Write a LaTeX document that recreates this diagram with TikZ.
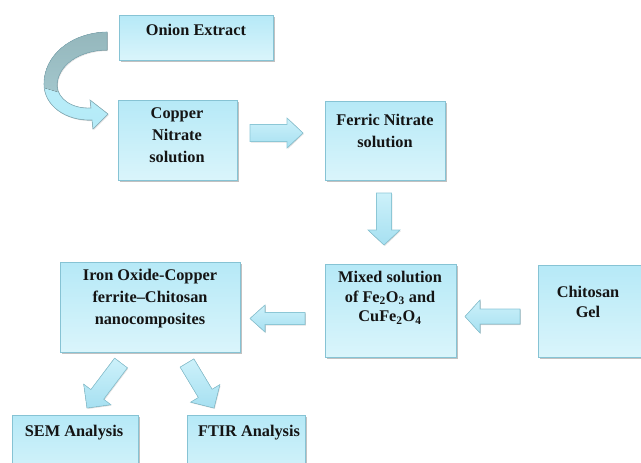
\documentclass[tikz,border=0pt]{standalone}
\usepackage{fontspec}
\setmainfont{Liberation Serif}
\usetikzlibrary{calc,shadows}
\definecolor{boxline}{HTML}{86C3D4}
\definecolor{boxtop}{HTML}{B6E9F7}
\definecolor{boxbot}{HTML}{DAF5FB}
\definecolor{arrtop}{HTML}{CDF1FA}
\definecolor{arrbot}{HTML}{A6E0F1}
\definecolor{arrline}{HTML}{8CC7D6}
\definecolor{curvtop}{HTML}{93B5BA}
\definecolor{curvmid}{HTML}{A2C6CC}
\definecolor{curvbot}{HTML}{B4EBF8}
\definecolor{txt}{HTML}{141414}
\newcommand\blkarrow[5]{% from, to, shaft half, head half, head length
  \coordinate (tmpH) at ($(#2)!#5!(#1)$);
  \filldraw[barrow] ($(#1)!#3!90:(#2)$) -- ($(tmpH)!#3!90:(#2)$) -- ($(tmpH)!#4!90:(#2)$)
    -- (#2) -- ($(tmpH)!#4!-90:(#2)$) -- ($(tmpH)!#3!-90:(#2)$) -- ($(#1)!#3!-90:(#2)$) -- cycle;}
\newcommand\curvpath{(107,32) .. controls (70,33) and (44,56) .. (44,84)
  .. controls (44,106) and (66,121) .. (92,120)
  -- (93,129) -- (108,114) -- (90,100) -- (91,108)
  .. controls (72,109) and (58,99) .. (57,86)
  .. controls (57,65) and (80,50) .. (107,50) -- cycle}
\begin{document}
\begin{tikzpicture}[x=1pt,y=-1pt,
  box/.style={draw=boxline, line width=0.7pt, top color=boxtop, bottom color=boxbot,
    drop shadow={shadow xshift=1.2pt, shadow yshift=-1.6pt, opacity=0.35, fill=black!70},
    inner sep=0pt, anchor=north west},
  lbl/.style={font=\fontsize{16.3}{22}\selectfont\bfseries, text=txt, align=center, inner sep=0pt},
  barrow/.style={draw=arrline, line width=0.6pt, top color=arrtop, bottom color=arrbot,
    drop shadow={shadow xshift=0.8pt, shadow yshift=-1pt, opacity=0.2, fill=black!60}}]
\clip (0,0) rectangle (641,463);
\useasboundingbox (0,0) rectangle (641,463);
% boxes
\node[box, minimum width=154pt, minimum height=45pt] (oe) at (119,15) {};
\node[box, minimum width=119pt, minimum height=80pt] (cn) at (118,100) {};
\node[box, minimum width=120pt, minimum height=79pt] (fn) at (325,101) {};
\node[box, minimum width=131pt, minimum height=93pt] (mx) at (325,264) {};
\node[box, minimum width=130pt, minimum height=92pt] (ch) at (538,265) {};
\node[box, minimum width=180pt, minimum height=90pt] (io) at (60,262) {};
\node[box, minimum width=126pt, minimum height=70pt] (sem) at (12,415) {};
\node[box, minimum width=118pt, minimum height=70pt] (ftir) at (187,415) {};
% labels
\node[lbl] (oe-l) at (196,30) {Onion Extract};
\node[lbl] (cn-l) at (177,135) {Copper\\Nitrate\\solution};
\node[lbl] (fn-l) at (385,131) {Ferric Nitrate\\solution};
\node[lbl, font=\fontsize{16.3}{19.5}\selectfont\bfseries] (mx-l) at (390,298)
  {Mixed solution\\of Fe\textsubscript{2}O\textsubscript{3} and\\CuFe\textsubscript{2}O\textsubscript{4}};
\node[lbl, font=\fontsize{16.3}{20}\selectfont\bfseries] (ch-l) at (588,302) {Chitosan\\Gel};
\node[lbl] (io-l) at (150,299) {Iron Oxide-Copper\\ferrite–Chitosan\\nanocomposites};
\node[lbl] (sem-l) at (74,433) {SEM Analysis};
\node[lbl] (ftir-l) at (249,433) {FTIR Analysis};
% arrow end points
\coordinate (a1s) at (250,133); \coordinate (a1e) at (303,133);
\coordinate (a2s) at (384,193); \coordinate (a2e) at (384,245);
\coordinate (a3s) at (520,316.5); \coordinate (a3e) at (465,316.5);
\coordinate (a4s) at (305,318.5); \coordinate (a4e) at (250,318.5);
\coordinate (a5s) at (121,363); \coordinate (a5e) at (87,408);
\coordinate (a6s) at (187,363); \coordinate (a6e) at (214,408);
\blkarrow{a1s}{a1e}{8.5pt}{15pt}{16pt}
\blkarrow{a2s}{a2e}{7.5pt}{16pt}{15pt}
\blkarrow{a3s}{a3e}{7.5pt}{16.5pt}{15pt}
\blkarrow{a4s}{a4e}{6pt}{13.5pt}{15pt}
\blkarrow{a5s}{a5e}{8pt}{17pt}{17pt}
\blkarrow{a6s}{a6e}{8pt}{17pt}{17pt}
% curved arrow
\fill[top color=curvbot!85!white, bottom color=curvbot,
  drop shadow={shadow xshift=0.8pt, shadow yshift=-1pt, opacity=0.2, fill=black!60}] \curvpath;
\begin{scope}
  \clip \curvpath;
  \fill[top color=curvtop, bottom color=curvmid] (30,25) -- (115,25) -- (115,62) -- (58,92) -- (38,86) -- cycle;
\end{scope}
\draw[draw=arrline!70!gray, line width=0.6pt] \curvpath;
\end{tikzpicture}
\end{document}
